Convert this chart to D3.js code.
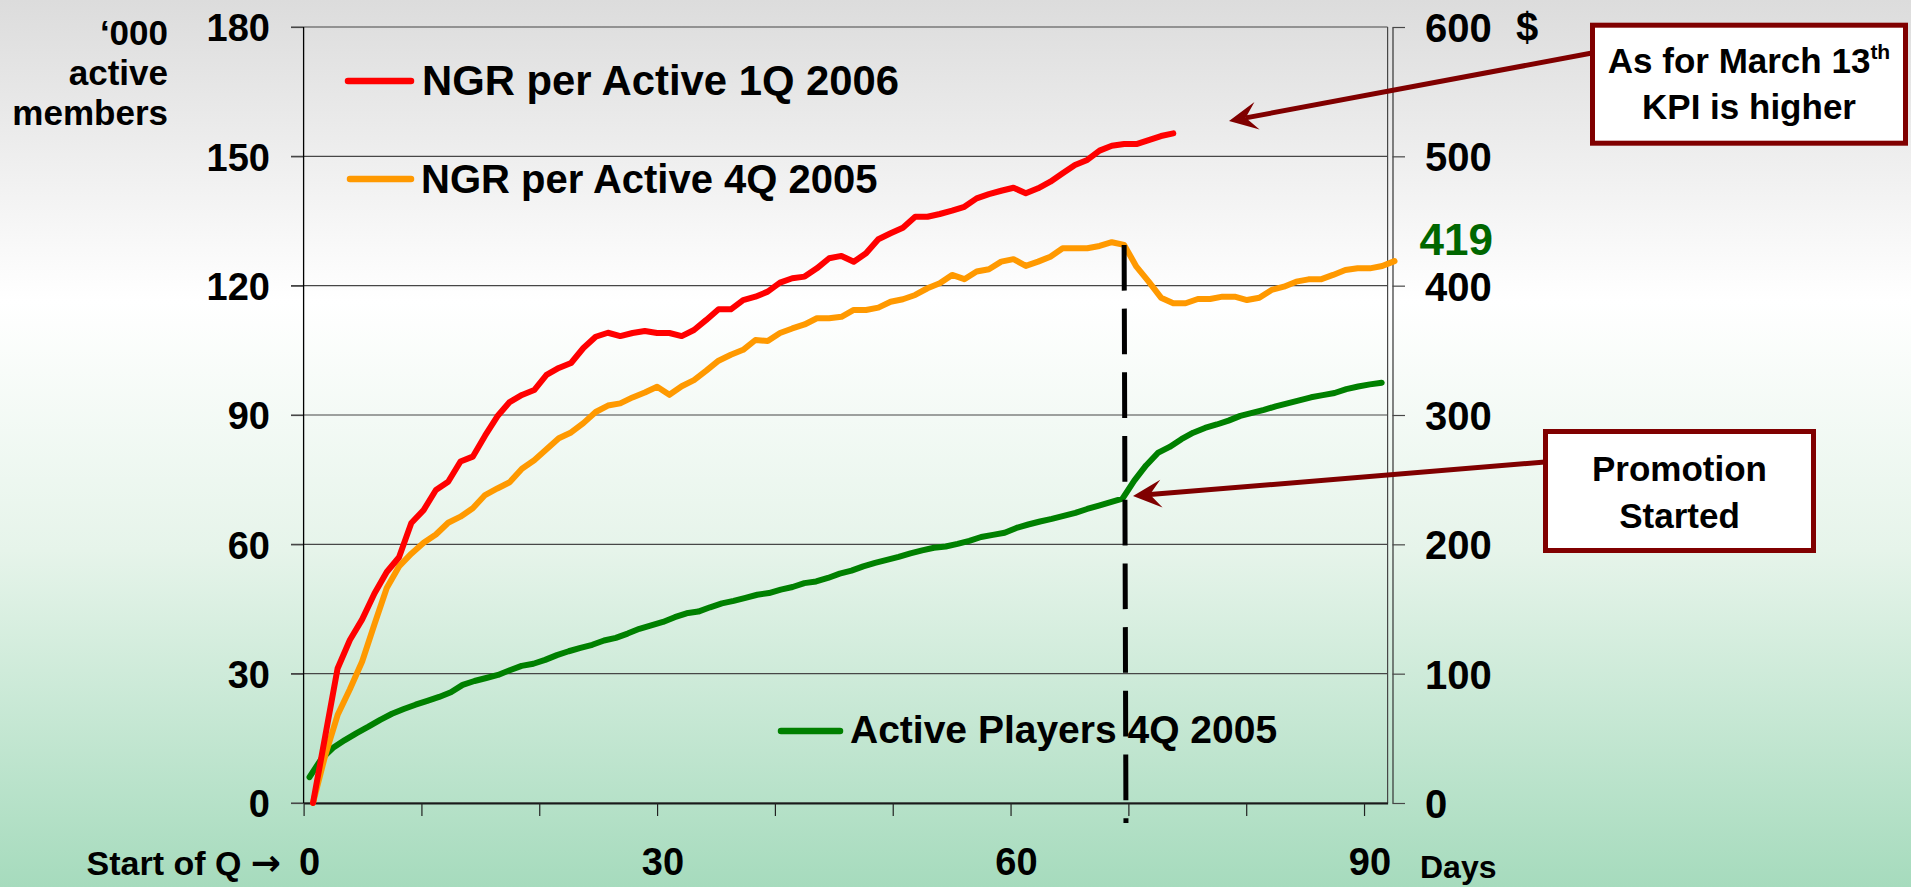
<!DOCTYPE html>
<html>
<head>
<meta charset="utf-8">
<script src="https://cdn.jsdelivr.net/npm/d3@7"></script>
<style>
  html, body { margin: 0; padding: 0; overflow: hidden; background: #fff; }
  svg text { font-family: "Liberation Sans", Arial, Helvetica, sans-serif; font-weight: bold; }
</style>
</head>
<body>
<svg id="chart" width="1911" height="887"></svg>
<script>
// ---- data -----------------------------------------------------------------
// Days of the quarter (primary category axis)
const days = d3.range(92);

// Active players, 4Q 2005 ('000, left axis), one value per day
const activePlayers4Q2005 = [
  6, 10.2, 12.8, 14.6, 16.2, 17.7, 19.3, 20.7, 21.8, 22.8,
  23.7, 24.6, 25.7, 27.4, 28.3, 29, 29.7, 30.8, 31.8, 32.3,
  33.2, 34.3, 35.2, 36, 36.7, 37.7, 38.3, 39.3, 40.4, 41.2,
  42, 43.1, 44, 44.4, 45.4, 46.3, 46.9, 47.6, 48.3, 48.7,
  49.5, 50.1, 51, 51.4, 52.2, 53.2, 53.9, 54.9, 55.7, 56.4,
  57.1, 57.9, 58.6, 59.2, 59.5, 60.1, 60.8, 61.7, 62.2, 62.7,
  63.8, 64.6, 65.3, 65.9, 66.6, 67.3, 68.2, 69, 69.8, 70.6,
  74.8, 78.3, 81.2, 82.6, 84.4, 85.9, 87, 87.8, 88.7, 89.8,
  90.5, 91.2, 92, 92.7, 93.4, 94.1, 94.6, 95.1, 96, 96.6,
  97.1, 97.5
];

// NGR per active, 1Q 2006 ($, right axis)
const ngrPerActive1Q2006 = [
  0, 52, 104, 126, 142, 162, 178.6, 190, 216.5, 226.5,
  242, 248.4, 264, 267.8, 284, 299, 310, 315.5, 319.3, 331,
  336.4, 340.2, 351.8, 360.5, 363.6, 361, 363.4, 365, 363.4, 363.4,
  361, 365.7, 373.5, 381.7, 381.7, 388.9, 391.5, 395.4, 402.3, 405.7,
  407, 413.4, 421.2, 423, 418.5, 425, 435.9, 440.5, 444.8, 453.3,
  453.3, 455.4, 458, 461, 467.5, 470.8, 473.4, 475.7, 471.4, 475.3,
  480.4, 486.9, 493.3, 497.2, 504.4, 508.2, 509.5, 509.5, 512.6, 515.7,
  517.8
];

// NGR per active, 4Q 2005 ($, right axis)
const ngrPerActive4Q2005 = [
  0, 37, 68, 88, 109.4, 138.2, 166.2, 182.9, 192.8, 201.3,
  207.6, 216.7, 221.4, 227.9, 238.1, 243.2, 248, 258.5, 265, 273.5,
  282, 286.5, 293.7, 302.3, 307.3, 309, 313.6, 317.4, 321.9, 315.6,
  322.2, 327, 334.3, 342, 346.6, 350.4, 358, 357.2, 363.4, 366.9,
  370, 374.8, 374.8, 375.9, 381.2, 381.2, 383, 387.6, 389.5, 392.8,
  398, 401.8, 408.3, 405, 410.9, 412.7, 418.6, 420.5, 415.3, 418.6,
  422.4, 428.9, 428.9, 428.9, 430.7, 433.6, 431.5, 414.7, 403.1, 390.7,
  386.4, 386.4, 389.7, 389.7, 391.5, 391.5, 388.9, 390.7, 396.7, 399.2,
  403.1, 404.9, 404.9, 408.3, 412.1, 413.4, 413.4, 415.2, 419
];

const leftTicks  = [0, 30, 60, 90, 120, 150, 180];
const rightTicks = [0, 100, 200, 300, 400, 500, 600];
const dayTicks   = [0, 10, 20, 30, 40, 50, 60, 70, 80, 90];
const dayLabels  = [0, 30, 60, 90];

// NGR sample at which the promotion started (dashed marker)
const promotionIndex = 66;

const series = [
  { key: "ngr1Q2006", label: "NGR per Active 1Q 2006", color: "#ff0000", values: ngrPerActive1Q2006 },
  { key: "ngr4Q2005", label: "NGR per Active 4Q 2005", color: "#ff9900", values: ngrPerActive4Q2005 },
  { key: "active4Q2005", label: "Active Players 4Q 2005", color: "#008000", values: activePlayers4Q2005 }
];

// ---- layout ---------------------------------------------------------------
const W = 1911, H = 887;
const plot = { left: 303.6, right: 1387.6, top: 27, bottom: 803 };
const rightAxisX = 1392.5;

const svg = d3.select("#chart");

// page background: grey at the top fading through white to pale green
const defs = svg.append("defs");
const bg = defs.append("linearGradient").attr("id", "bg").attr("x1", 0).attr("y1", 0).attr("x2", 0).attr("y2", 1);
bg.append("stop").attr("offset", "0").attr("stop-color", "#dcdcdc");
bg.append("stop").attr("offset", "0.34").attr("stop-color", "#ffffff");
bg.append("stop").attr("offset", "0.62").attr("stop-color", "#e6f4ea");
bg.append("stop").attr("offset", "1").attr("stop-color", "#a6dbbd");
svg.append("rect").attr("width", W).attr("height", H).attr("fill", "url(#bg)");

// ---- scales ---------------------------------------------------------------
const yLeft = d3.scaleLinear().domain([0, 180]).range([plot.bottom, plot.top]);
const yRight = d3.scaleLinear().domain([0, 600]).range([plot.bottom, plot.top]);
const xDay = d3.scaleBand().domain(days).range([plot.left, plot.right]);
const xDayEdge = d3.scaleLinear().domain([0, days.length]).range([plot.left, plot.right]);
const xNgr = d3.scaleLinear().domain([0, 88]).range([plot.left + 9.4, plot.right + 6.9]);
const dayCenter = d => xDay(d) + xDay.bandwidth() / 2;

// ---- gridlines ------------------------------------------------------------
svg.append("g").selectAll("line").data(leftTicks).join("line")
  .attr("x1", plot.left - 12.6).attr("x2", plot.right)
  .attr("y1", d => yLeft(d)).attr("y2", d => yLeft(d))
  .attr("stroke", "#474747").attr("stroke-width", 1.2);

// plot right border
svg.append("line")
  .attr("x1", plot.right).attr("x2", plot.right)
  .attr("y1", plot.top).attr("y2", plot.bottom)
  .attr("stroke", "#474747").attr("stroke-width", 1.2);

// ---- left axis ------------------------------------------------------------
const gLeft = svg.append("g").attr("transform", `translate(${plot.left},0)`)
  .call(d3.axisLeft(yLeft).tickValues(leftTicks).tickSize(12.6).tickSizeOuter(0).tickPadding(21));
gLeft.select(".domain").remove();
gLeft.selectAll(".tick line").attr("stroke", "#474747").attr("stroke-width", 1.2);
gLeft.selectAll(".tick text").attr("font-size", 38).attr("fill", "#000").attr("dy", "0.36em");
svg.append("line")
  .attr("x1", plot.left).attr("x2", plot.left)
  .attr("y1", plot.top).attr("y2", plot.bottom)
  .attr("stroke", "#000").attr("stroke-width", 1.3);

// ---- right axis -----------------------------------------------------------
const gRight = svg.append("g").attr("transform", `translate(${rightAxisX},0)`)
  .call(d3.axisRight(yRight).tickValues(rightTicks).tickSize(12.5).tickSizeOuter(0).tickPadding(20));
gRight.select(".domain").attr("stroke", "#333").attr("stroke-width", 1.2);
gRight.selectAll(".tick line").attr("stroke", "#474747").attr("stroke-width", 1.2);
gRight.selectAll(".tick text").attr("font-size", 40).attr("fill", "#000").attr("dy", "0.36em");

svg.append("text").attr("x", 1516).attr("y", yRight(600)).attr("dy", "0.36em")
  .attr("font-size", 40).attr("fill", "#000").text("$");

// ---- bottom axis ----------------------------------------------------------
const gBottom = svg.append("g").attr("transform", `translate(0,${plot.bottom})`)
  .call(d3.axisBottom(xDayEdge).tickValues(dayTicks).tickSize(13).tickSizeOuter(0).tickFormat(""));
gBottom.select(".domain").attr("stroke", "#1a1a1a").attr("stroke-width", 2);
gBottom.selectAll(".tick line").attr("stroke", "#222").attr("stroke-width", 1.2);

svg.append("g").selectAll("text").data(dayLabels).join("text")
  .attr("x", d => dayCenter(d)).attr("y", 875)
  .attr("text-anchor", "middle").attr("font-size", 38).attr("fill", "#000")
  .text(d => d);

const startLabel = svg.append("text").attr("x", 281).attr("y", 875).attr("text-anchor", "end")
  .attr("font-size", 34).attr("fill", "#000");
startLabel.append("tspan").text("Start of Q ");
startLabel.append("tspan")
  .style("font-family", "'DejaVu Sans', 'Liberation Sans', sans-serif")
  .attr("font-size", 36).text("\u2192");

svg.append("text").attr("x", 1420).attr("y", 878)
  .attr("font-size", 32).attr("fill", "#000").text("Days");

// left axis title
const title = svg.append("text").attr("text-anchor", "end").attr("font-size", 35).attr("fill", "#000");
["\u2018000", "active", "members"].forEach((t, i) => {
  title.append("tspan").attr("x", 168).attr("y", 45 + i * 40).text(t);
});

// ---- lines ----------------------------------------------------------------
const ngrLine = d3.line().x((d, i) => xNgr(i)).y(d => yRight(d));
const activeLine = d3.line().x((d, i) => dayCenter(days[i])).y(d => yLeft(d));

const gLines = svg.append("g").attr("fill", "none")
  .attr("stroke-width", 6).attr("stroke-linejoin", "round").attr("stroke-linecap", "round");

gLines.append("path").datum(activePlayers4Q2005)
  .attr("d", activeLine).attr("stroke", series[2].color);
gLines.append("path").datum(ngrPerActive4Q2005)
  .attr("d", ngrLine).attr("stroke", series[1].color);
gLines.append("path").datum(ngrPerActive1Q2006)
  .attr("d", ngrLine).attr("stroke", series[0].color);

// promotion start marker
svg.append("line")
  .attr("x1", xNgr(promotionIndex)).attr("y1", yRight(ngrPerActive4Q2005[promotionIndex]))
  .attr("x2", xNgr(promotionIndex + 0.15)).attr("y2", yLeft(0) + 20)
  .attr("stroke", "#000").attr("stroke-width", 5).attr("stroke-dasharray", "45.7 18");

// quarter-end NGR value label
const lastNgr = ngrPerActive4Q2005[ngrPerActive4Q2005.length - 1];
svg.append("text").attr("x", 1493).attr("y", yRight(lastNgr) - 6)
  .attr("text-anchor", "end").attr("font-size", 44).attr("fill", "#006600")
  .text(lastNgr);

// ---- legend ---------------------------------------------------------------
const legendItems = [
  { s: series[0], x1: 348, x2: 411, y: 81, tx: 422, ty: 95, fs: 41.8 },
  { s: series[1], x1: 350, x2: 411, y: 179, tx: 421, ty: 193, fs: 40 },
  { s: series[2], x1: 781, x2: 840, y: 731, tx: 850, ty: 743, fs: 39 }
];
const gLegend = svg.append("g");
legendItems.forEach(it => {
  gLegend.append("line").attr("x1", it.x1).attr("x2", it.x2).attr("y1", it.y).attr("y2", it.y)
    .attr("stroke", it.s.color).attr("stroke-width", 6.5).attr("stroke-linecap", "round");
  gLegend.append("text").attr("x", it.tx).attr("y", it.ty)
    .attr("font-size", it.fs).attr("fill", "#000").text(it.s.label);
});

// ---- callouts -------------------------------------------------------------
const calloutColor = "#800000";

function arrow(x1, y1, x2, y2) {
  const dx = x2 - x1, dy = y2 - y1, len = Math.hypot(dx, dy);
  const ux = dx / len, uy = dy / len;   // towards the tip
  const nx = -uy, ny = ux;
  const back = 28.5, half = 14, notch = 17;
  const bx = x2 - ux * back, by = y2 - uy * back;
  const mx = x2 - ux * notch, my = y2 - uy * notch;
  svg.append("line").attr("x1", x1).attr("y1", y1).attr("x2", mx).attr("y2", my)
    .attr("stroke", calloutColor).attr("stroke-width", 5);
  svg.append("path")
    .attr("d", `M${x2},${y2} L${bx + nx * half},${by + ny * half} L${mx},${my} L${bx - nx * half},${by - ny * half} Z`)
    .attr("fill", calloutColor);
}

function callout(box, lines) {
  svg.append("rect").attr("x", box.x).attr("y", box.y).attr("width", box.w).attr("height", box.h)
    .attr("fill", "#fff").attr("stroke", calloutColor).attr("stroke-width", 5);
  lines.forEach(l => {
    const t = svg.append("text").attr("x", box.x + box.w / 2).attr("y", l.y)
      .attr("text-anchor", "middle").attr("font-size", 35).attr("fill", "#000");
    t.append("tspan").text(l.text);
    if (l.sup) t.append("tspan").attr("dy", -14).attr("font-size", 21).text(l.sup);
  });
}

arrow(1592, 53, 1229, 121);
callout({ x: 1592.5, y: 25.2, w: 313, h: 118 }, [
  { text: "As for March 13", sup: "th", y: 73 },
  { text: "KPI is higher", y: 119 }
]);

arrow(1545, 462, 1133, 496);
callout({ x: 1545.5, y: 431.5, w: 268, h: 119 }, [
  { text: "Promotion", y: 481 },
  { text: "Started", y: 528 }
]);
</script>
</body>
</html>
